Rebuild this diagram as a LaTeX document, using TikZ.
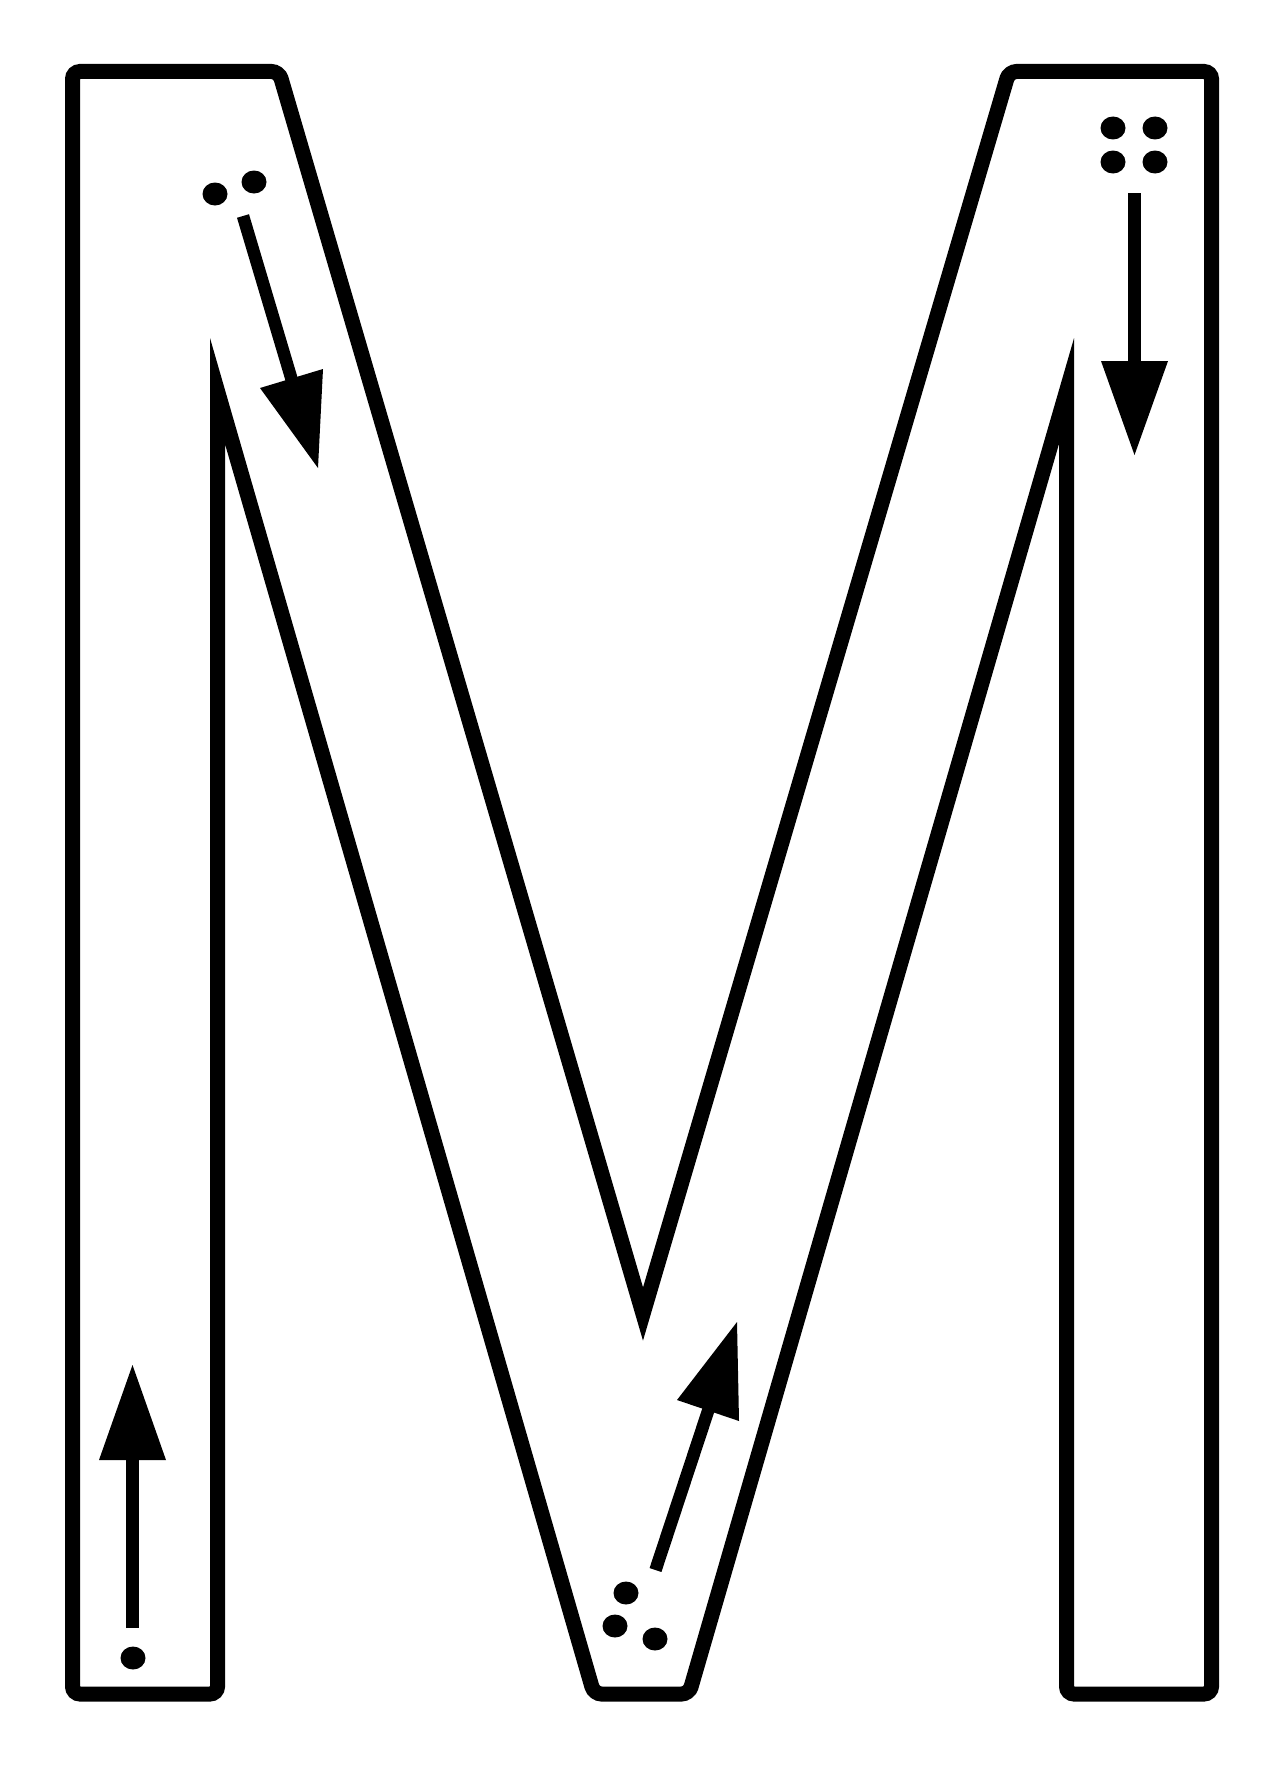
\documentclass[tikz,border=0pt]{standalone}
\begin{document}
\begin{tikzpicture}[x=1pt,y=-1pt,
  outline/.style={line width=15pt,line join=miter,miter limit=12},
  shaft/.style={line width=12.5pt},
  head/.style={fill=black},
  dot/.style={fill=black}]
\useasboundingbox[fill=white] (0,0) rectangle (1266,1766);
% vertices of the M outline
\coordinate (s)  at (72.5,900);
\coordinate (tl) at (72.5,71.5);
\coordinate (tm) at (279,71.5);
\coordinate (ap) at (643,1314);
\coordinate (rm) at (1009,71.5);
\coordinate (tr) at (1211.5,71.5);
\coordinate (br) at (1211.5,1694);
\coordinate (bri) at (1066.5,1694);
\coordinate (rit) at (1066.5,391);
\coordinate (vbr) at (689,1694);
\coordinate (vbl) at (594,1694);
\coordinate (lit) at (217.5,391);
\coordinate (bli) at (217.5,1694);
\coordinate (bl) at (72.5,1694);
\draw[outline] (s) [rounded corners=7.5pt] -- (tl) -- (tm) [sharp corners] -- (ap)
  [rounded corners=7.5pt] -- (rm) -- (tr) -- (br) -- (bri) [sharp corners] -- (rit)
  [rounded corners=7.5pt] -- (vbr) -- (vbl) [sharp corners] -- (lit)
  [rounded corners=7.5pt] -- (bli) -- (bl) [sharp corners] -- cycle;
% arrow 1 (top left, down-right)
\coordinate (a1s) at (243,216);
\coordinate (a1e) at (293,384);
\coordinate (a1b) at (260,388);
\coordinate (a1c) at (323,369);
\coordinate (a1t) at (318,468);
\draw[shaft] (a1s) -- (a1e);
\fill[head] (a1b) -- (a1c) -- (a1t) -- cycle;
% arrow 2 (top right, down)
\coordinate (a2s) at (1134.5,193);
\coordinate (a2e) at (1134.5,366);
\coordinate (a2b) at (1101,361);
\coordinate (a2c) at (1168,361);
\coordinate (a2t) at (1134.5,455);
\draw[shaft] (a2s) -- (a2e);
\fill[head] (a2b) -- (a2c) -- (a2t) -- cycle;
% arrow 3 (bottom left, up)
\coordinate (a3s) at (132.5,1628);
\coordinate (a3e) at (132.5,1455);
\coordinate (a3b) at (99,1460);
\coordinate (a3c) at (166,1460);
\coordinate (a3t) at (132.5,1365);
\draw[shaft] (a3s) -- (a3e);
\fill[head] (a3b) -- (a3c) -- (a3t) -- cycle;
% arrow 4 (V bottom, up-right)
\coordinate (a4s) at (655.5,1570);
\coordinate (a4e) at (710,1405);
\coordinate (a4b) at (677,1400);
\coordinate (a4c) at (739,1421);
\coordinate (a4t) at (737,1322);
\draw[shaft] (a4s) -- (a4e);
\fill[head] (a4b) -- (a4c) -- (a4t) -- cycle;
% dots
\fill[dot] (215,194) ellipse [x radius=12.5pt,y radius=11.5pt];
\fill[dot] (254,182) ellipse [x radius=12.5pt,y radius=11.5pt];
\fill[dot] (1113,128) ellipse [x radius=12.5pt,y radius=11.5pt];
\fill[dot] (1155,128) ellipse [x radius=12.5pt,y radius=11.5pt];
\fill[dot] (1113,162) ellipse [x radius=12.5pt,y radius=11.5pt];
\fill[dot] (1155,162) ellipse [x radius=12.5pt,y radius=11.5pt];
\fill[dot] (133,1658) ellipse [x radius=12.5pt,y radius=11.5pt];
\fill[dot] (626,1593) ellipse [x radius=12.5pt,y radius=11.5pt];
\fill[dot] (615,1626) ellipse [x radius=12.5pt,y radius=11.5pt];
\fill[dot] (655,1639) ellipse [x radius=12.5pt,y radius=11.5pt];
\end{tikzpicture}
\end{document}
